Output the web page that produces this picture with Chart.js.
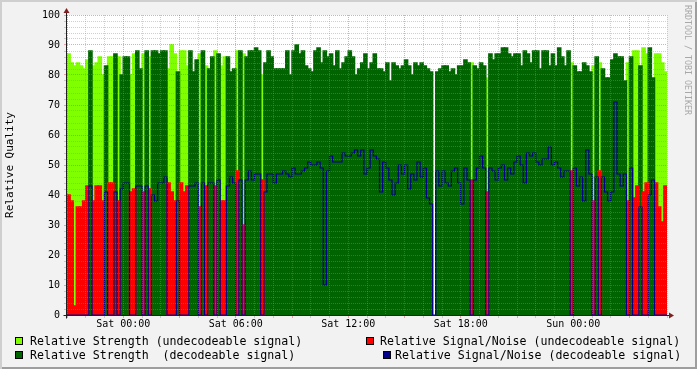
<!DOCTYPE html>
<html>
<head>
<meta charset="utf-8">
<script src="https://cdn.jsdelivr.net/npm/chart.js@4.4.1/dist/chart.umd.min.js"></script>
<style>
  html, body { margin: 0; padding: 0; background: #f2f2f2; }
  #wrap { position: relative; width: 697px; height: 369px; background: #f2f2f2; overflow: hidden;
          font-family: "DejaVu Sans Mono", monospace; color: #000; }
  #chart { position: absolute; left: 0; top: 0; }
  #edge { position: absolute; left: 0; top: 0; width: 697px; height: 369px; pointer-events: none;
          box-shadow: inset 2px 2px 0 #cfcfcf, inset -2px -2px 0 #9e9e9e; }
  .sw { position: absolute; width: 6px; height: 6px; border: 1px solid #000; }
  .lt { position: absolute; font-size: 11.6px; line-height: 14px; white-space: pre; }
  #wm { position: absolute; left: 683px; top: 5px; font-size: 8.3px; line-height: 9px; color: #a8a8a8;
        writing-mode: vertical-rl; white-space: pre; }
</style>
</head>
<body>
<div id="wrap">
  <canvas id="chart" width="697" height="369"></canvas>
  <div id="wm">RRDTOOL / TOBI OETIKER</div>
  <div class="sw" style="left:15px;top:337px;background:#7fff00"></div>
  <div class="lt" style="left:30px;top:334px">Relative Strength (undecodeable signal)</div>
  <div class="sw" style="left:15px;top:351px;background:#006400"></div>
  <div class="lt" style="left:30px;top:348px">Relative Strength  (decodeable signal)</div>
  <div class="sw" style="left:366px;top:337px;background:#ff0000"></div>
  <div class="lt" style="left:380px;top:334px">Relative Signal/Noise (undecodeable signal)</div>
  <div class="sw" style="left:383px;top:351px;background:#00008b"></div>
  <div class="lt" style="left:395px;top:348px">Relative Signal/Noise (decodeable signal)</div>
  <div id="edge"></div>
</div>
<script>
// time axis in hours relative to Sat 00:00, one sample every 10 minutes
var startHour = -3;
var endHour = 29;
var stepHours = 1 / 6;

// relative strength per sample (null = no data)
var strength = [
  87,84,83,84,83,82,85,88,83,84,86,80,83,86,86,87,
  86,80,86,86,80,87,88,82,87,88,86,88,88,87,88,88,
  82,90,87,81,88,88,83,88,81,85,87,88,83,82,86,88,
  87,83,86,86,81,82,88,88,87,86,88,88,89,88,80,84,
  88,86,82,82,82,82,88,80,88,90,87,88,83,82,81,88,
  89,84,88,86,87,83,88,82,84,86,88,86,80,82,84,87,
  82,84,87,82,82,81,84,78,84,83,82,83,85,83,80,84,
  83,84,83,82,81,null,81,82,83,83,81,82,80,83,83,85,
  84,84,83,82,84,83,79,87,85,87,87,89,89,87,86,87,
  87,83,88,87,84,88,88,82,88,88,83,87,83,89,86,83,
  88,84,83,81,81,84,83,81,83,86,84,82,79,79,85,87,
  86,86,78,84,86,88,88,83,89,87,89,79,87,87,84,81
];

// relative signal/noise per sample
var snr = [
  40,38,3,36,36,38,43,43,38,43,43,38,41,44,44,41,
  38,42,44,44,41,42,43,43,41,43,42,40,38,44,44,46,
  44,41,38,38,44,41,43,43,43,44,36,44,43,44,44,43,
  45,38,38,43,46,44,48,45,30,45,48,45,47,47,45,41,
  47,47,44,47,47,48,47,46,49,47,47,48,49,51,50,50,
  51,49,10,48,53,51,51,51,54,53,53,54,55,53,55,47,
  49,55,53,52,41,51,49,45,40,44,50,47,50,42,47,45,
  51,46,49,39,37,null,48,43,48,44,43,48,49,44,37,49,
  45,45,45,49,53,49,41,49,48,45,49,50,45,49,47,51,
  53,50,44,54,53,54,51,50,52,52,56,50,51,49,46,48,
  48,48,49,43,46,38,55,47,38,46,48,46,41,38,41,71,
  47,43,47,38,49,39,43,36,41,44,40,45,44,36,31,43
];

// 1 = signal could be decoded, 0 = not
var decodable = [
  0,0,0,0,0,0,0,1,0,0,0,0,1,0,0,1,
  0,1,1,1,0,0,1,1,0,1,0,1,1,1,1,1,
  0,0,0,1,0,0,0,1,1,1,0,1,0,1,1,0,
  1,0,0,1,1,1,0,1,0,1,1,1,1,1,0,1,
  1,1,1,1,1,1,1,1,1,1,1,1,1,1,1,1,
  1,1,1,1,1,1,1,1,1,1,1,1,1,1,1,1,
  1,1,1,1,1,1,1,1,1,1,1,1,1,1,1,1,
  1,1,1,1,1,1,1,1,1,1,1,1,1,1,1,1,
  1,0,1,1,1,1,0,1,1,1,1,1,1,1,1,1,
  1,1,1,1,1,1,1,1,1,1,1,1,1,1,1,1,
  1,0,1,1,1,1,1,1,0,1,0,1,1,1,1,1,
  1,1,1,0,1,0,0,1,0,0,1,1,0,0,0,0
];

var tickHours = [0, 6, 12, 18, 24];
var tickLabels = ['Sat 00:00', 'Sat 06:00', 'Sat 12:00', 'Sat 18:00', 'Sun 00:00'];

var seriesNames = [
  'Relative Strength (undecodeable signal)',
  'Relative Strength  (decodeable signal)',
  'Relative Signal/Noise (undecodeable signal)',
  'Relative Signal/Noise (decodeable signal)'
];
var seriesColors = ['#7fff00', '#006400', '#ff0000', '#00008b'];

var gridMinor = 'rgba(143,143,143,0.42)';
var gridMajor = 'rgba(222,79,79,0.5)';

function slotStart(i) {
  return startHour + i * stepHours;
}

// bars for one kind of sample (decodable or not)
function barPoints(values, wantDec) {
  return values.map(function (v, i) {
    var ok = strength[i] !== null && decodable[i] === wantDec;
    return { x: slotStart(i) + stepHours / 2, y: ok ? v : null };
  });
}

// blue line drops to zero where the signal was not decodable
var bluePoints = snr.map(function (v, i) {
  var ok = strength[i] !== null && decodable[i] === 1;
  return { x: slotStart(i), y: ok ? v : 0 };
});
bluePoints.push({ x: endHour, y: bluePoints[bluePoints.length - 1].y });

var plotBackground = {
  id: 'plotBackground',
  beforeDraw: function (chart) {
    var a = chart.chartArea;
    var ctx = chart.ctx;
    ctx.save();
    ctx.fillStyle = '#ffffff';
    ctx.fillRect(a.left, a.top, a.right - a.left, a.bottom - a.top);
    ctx.restore();
  }
};

var axesArrows = {
  id: 'axesArrows',
  afterDraw: function (chart) {
    var a = chart.chartArea;
    var ctx = chart.ctx;
    var x0 = Math.round(a.left) - 0.5;
    var y0 = Math.round(a.bottom) + 0.5;
    ctx.save();
    ctx.strokeStyle = '#1f1f1f';
    ctx.lineWidth = 1;
    ctx.beginPath();
    ctx.moveTo(x0, y0 + 3);
    ctx.lineTo(x0, a.top - 3);
    ctx.moveTo(x0 - 3, y0);
    ctx.lineTo(a.right + 2, y0);
    ctx.stroke();
    ctx.fillStyle = '#801f1f';
    ctx.beginPath();
    ctx.moveTo(x0, a.top - 7);
    ctx.lineTo(x0 - 3, a.top - 2);
    ctx.lineTo(x0 + 3, a.top - 2);
    ctx.closePath();
    ctx.fill();
    ctx.beginPath();
    ctx.moveTo(a.right + 7, y0);
    ctx.lineTo(a.right + 2, y0 - 3);
    ctx.lineTo(a.right + 2, y0 + 3);
    ctx.closePath();
    ctx.fill();
    ctx.restore();
  }
};

var tickFont = { family: 'DejaVu Sans Mono', size: 10 };

var ctx = document.getElementById('chart').getContext('2d');
var chart = new Chart(ctx, {
  type: 'bar',
  data: {
    datasets: [
      { label: seriesNames[0], data: barPoints(strength, 0), backgroundColor: seriesColors[0], order: 4 },
      { label: seriesNames[1], data: barPoints(strength, 1), backgroundColor: seriesColors[1], order: 3 },
      { label: seriesNames[2], data: barPoints(snr, 0), backgroundColor: seriesColors[2], order: 2 },
      {
        type: 'line', label: seriesNames[3], data: bluePoints,
        borderColor: seriesColors[3], borderWidth: 1.2, pointRadius: 0,
        stepped: true, fill: false, tension: 0, order: 1
      }
    ]
  },
  options: {
    responsive: false,
    animation: false,
    events: [],
    datasets: {
      bar: { grouped: false, barPercentage: 1, categoryPercentage: 1, borderWidth: 0, inflateAmount: 0.75 }
    },
    layout: { padding: { top: 15, right: 30, left: 0, bottom: 0 } },
    plugins: { legend: { display: false }, tooltip: { enabled: false } },
    scales: {
      x: {
        type: 'linear',
        min: startHour,
        max: endHour,
        offset: false,
        grid: {
          offset: false,
          z: 1,
          color: function (c) { return c.tick && c.tick.value % 3 === 0 ? gridMajor : gridMinor; },
          tickColor: function (c) { return c.tick && c.tick.value % 3 === 0 ? gridMajor : gridMinor; },
          tickLength: 3
        },
        border: { display: false, dash: [1, 1] },
        ticks: {
          stepSize: 1,
          maxTicksLimit: 100,
          autoSkip: false,
          maxRotation: 0,
          minRotation: 0,
          padding: 0,
          color: '#000',
          font: tickFont,
          callback: function (v) {
            var k = tickHours.indexOf(v);
            return k >= 0 ? tickLabels[k] : '';
          }
        },
        afterFit: function (s) { s.height = 54; }
      },
      y: {
        min: 0,
        max: 100,
        grid: {
          z: 1,
          color: function (c) { return c.tick && c.tick.value % 10 === 0 ? gridMajor : gridMinor; },
          tickColor: function (c) { return c.tick && c.tick.value % 10 === 0 ? gridMajor : gridMinor; },
          tickLength: 3
        },
        border: { display: false, dash: [1, 1] },
        ticks: {
          stepSize: 2,
          maxTicksLimit: 100,
          autoSkip: false,
          padding: 4,
          color: '#000',
          font: tickFont,
          callback: function (v) { return v % 10 === 0 ? String(v) : ''; }
        },
        title: {
          display: true,
          text: 'Relative Quality',
          color: '#000',
          font: { family: 'DejaVu Sans Mono', size: 11 },
          padding: { top: 4, bottom: 0 }
        },
        afterFit: function (s) { s.width = 67; }
      }
    }
  },
  plugins: [plotBackground, axesArrows]
});
</script>
</body>
</html>
